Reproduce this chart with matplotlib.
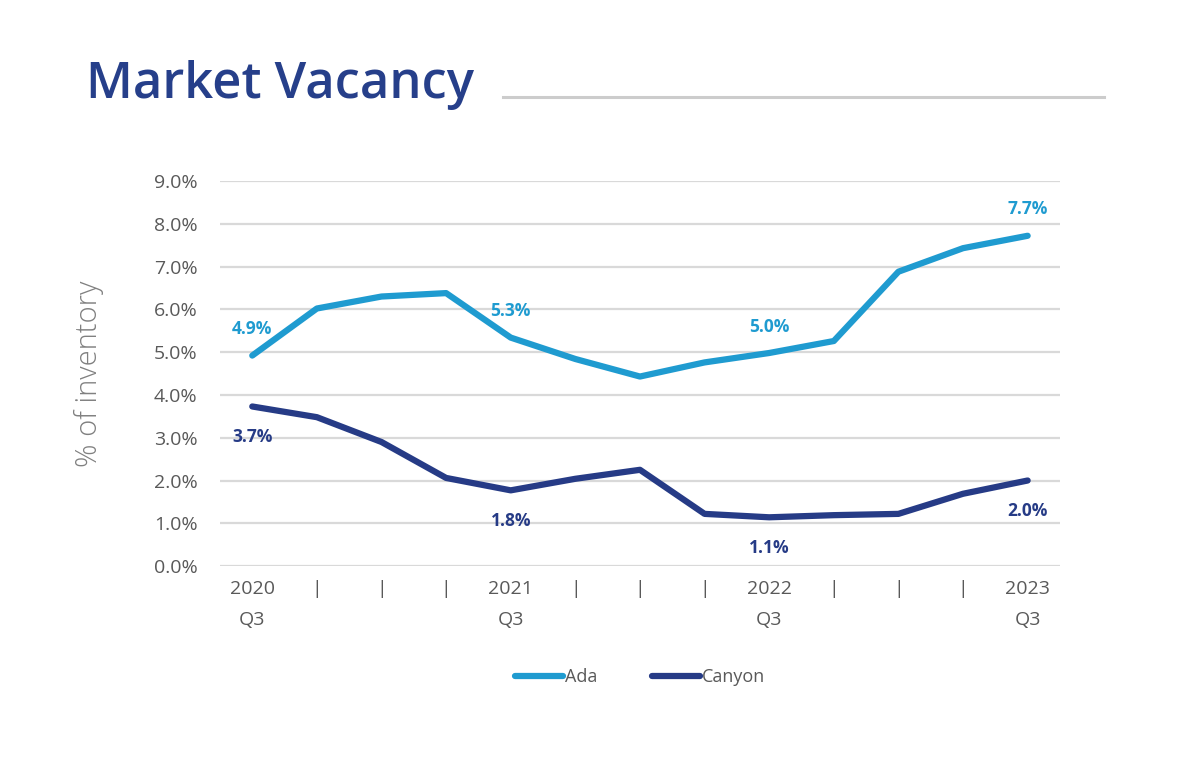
import matplotlib
matplotlib.use('Agg')
import matplotlib.pyplot as plt
from matplotlib.lines import Line2D
from matplotlib.ticker import FuncFormatter

# Данные: квартальная вакантность, 2020 Q3 - 2023 Q3
quarters = ["2020\nQ3", "|", "|", "|", "2021\nQ3", "|", "|", "|",
            "2022\nQ3", "|", "|", "|", "2023\nQ3"]
ada = [4.92, 6.02, 6.30, 6.38, 5.34, 4.84, 4.43, 4.76, 4.98, 5.26, 6.88, 7.43, 7.72]
canyon = [3.73, 3.48, 2.90, 2.06, 1.77, 2.04, 2.25, 1.22, 1.14, 1.19, 1.22, 1.69, 2.00]
label_idx = [0, 4, 8, 12]
ada_labels = ["4.9%", "5.3%", "5.0%", "7.7%"]
canyon_labels = ["3.7%", "1.8%", "1.1%", "2.0%"]

ADA_COLOR = "#1f9bd0"
CANYON_COLOR = "#263b86"
TITLE_COLOR = "#263f8a"
TEXT_GRAY = "#595959"

plt.rcParams['font.family'] = ['Open Sans', 'DejaVu Sans']

fig = plt.figure(figsize=(12, 7.66), dpi=100)
ax = fig.add_axes([0.1833, 0.261, 0.70, 0.5027])

x = list(range(len(quarters)))
ax.plot(x, ada, color=ADA_COLOR, linewidth=4.5, solid_capstyle='round',
        solid_joinstyle='round', label="Ada", zorder=3)
ax.plot(x, canyon, color=CANYON_COLOR, linewidth=4.5, solid_capstyle='round',
        solid_joinstyle='round', label="Canyon", zorder=3)

# Подписи значений
for i, txt in zip(label_idx, ada_labels):
    ax.annotate(txt, (x[i], ada[i]), xytext=(0, 19), textcoords='offset points',
                ha='center', va='center', color=ADA_COLOR, fontsize=12.5,
                fontweight='bold')
for i, txt in zip(label_idx, canyon_labels):
    ax.annotate(txt, (x[i], canyon[i]), xytext=(0, -22), textcoords='offset points',
                ha='center', va='center', color=CANYON_COLOR, fontsize=12.5,
                fontweight='bold')

ax.set_xlim(-0.5, len(quarters) - 0.5)
ax.set_ylim(0, 9)
ax.set_yticks(range(0, 10))
ax.yaxis.set_major_formatter(FuncFormatter(lambda v, p: f"{v:.1f}%"))
ax.set_xticks(x)
ax.set_xticklabels(quarters, fontsize=14, color=TEXT_GRAY, linespacing=1.95)
ax.tick_params(axis='y', labelsize=14, labelcolor=TEXT_GRAY, length=0, pad=16)
ax.tick_params(axis='x', length=0, pad=10)
for lbl in ax.get_xticklabels():
    lbl.set_verticalalignment('top')

ax.grid(axis='y', color='#d9d9d9', linewidth=1.6, zorder=0)
ax.set_axisbelow(True)
for s in ax.spines.values():
    s.set_visible(False)

ax.set_ylabel("% of inventory", fontsize=21, color='#808080', fontweight='light',
              labelpad=36)

ax.legend(loc='center', bbox_to_anchor=(0.5, -0.288), ncol=2, frameon=False,
          fontsize=13, labelcolor=TEXT_GRAY, handlelength=2.7, handletextpad=0.1,
          columnspacing=3.0)

# Заголовок и линия рядом
fig.text(0.072, 0.889, "Market Vacancy", fontsize=36.5, color=TITLE_COLOR,
         fontweight='semibold', ha='left', va='center')
fig.add_artist(Line2D([0.419, 0.92], [0.873, 0.873], color='#cccccc', linewidth=2.2))

plt.savefig("out.png", dpi=100, facecolor='white')
